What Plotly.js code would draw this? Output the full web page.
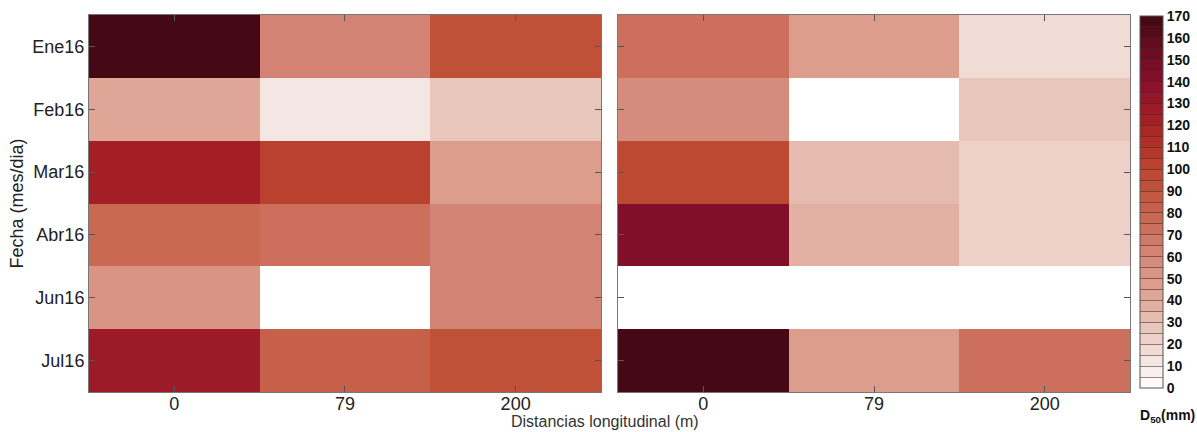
<!DOCTYPE html>
<html>
<head>
<meta charset="utf-8">
<script src="https://cdn.plot.ly/plotly-3.0.1.min.js"></script>
<style>
  html, body { margin: 0; padding: 0; background: #fff; }
  #chart { width: 1197px; height: 432px; }
</style>
</head>
<body>
<div id="chart"></div>
<script>
// Sampling dates (rows) and longitudinal distances (columns)
const fechas = ["Ene16", "Feb16", "Mar16", "Abr16", "Jun16", "Jul16"];
const distancias = ["0", "79", "200"];

// D50 (mm) per date and distance; null = no sample
const d50Izquierda = [
  [165, 62, 92],
  [42, 14, 28],
  [122, 102, 46],
  [78, 74, 64],
  [54, null, 64],
  [128, 84, 90]
];
const d50Derecha = [
  [74, 46, 16],
  [58, null, 28],
  [98, 32, 22],
  [142, 36, 22],
  [null, null, null],
  [168, 48, 72]
];

// Colour anchors every 10 mm, from 0 to 170
const anclas = [
  "#ffffff", "#f6ebe8", "#efd6cf", "#e7c0b5", "#e0ab9d", "#da9888",
  "#d48878", "#cd7462", "#c7644e", "#c2553c", "#bb4530", "#b23427",
  "#a62224", "#9a1729", "#86102a", "#720d24", "#5a0b1c", "#3c0813"
];
const zMin = 0, zMax = 170, paso = 5;

function hexRgb(h) {
  return [1, 3, 5].map(i => parseInt(h.slice(i, i + 2), 16));
}
function colorEn(v) {
  const t = v / 10;
  const i = Math.min(Math.floor(t), anclas.length - 2);
  const f = t - i;
  const a = hexRgb(anclas[i]), b = hexRgb(anclas[i + 1]);
  const c = a.map((x, k) => Math.round(x + (b[k] - x) * f));
  return `rgb(${c[0]},${c[1]},${c[2]})`;
}

// Stepped colour scale: one flat band per 5 mm class
const nBandas = (zMax - zMin) / paso;
const escala = [];
for (let i = 0; i < nBandas; i++) {
  const col = colorEn(zMin + (i + 0.5) * paso);
  escala.push([i / nBandas, col]);
  escala.push([(i + 1) / nBandas, col]);
}

// Colour bar ticks every 5 mm act as class separators; labels every 10 mm
const cbVals = [], cbText = [];
for (let v = zMin; v <= zMax; v += paso) {
  cbVals.push(v);
  cbText.push(v % 10 === 0 ? String(v) : "");
}

const fuente = "Liberation Sans, Arial, sans-serif";

const comunes = {
  type: "heatmap",
  x: distancias,
  y: fechas,
  zmin: zMin,
  zmax: zMax,
  colorscale: escala,
  hoverongaps: false
};

const trazas = [
  Object.assign({}, comunes, {
    z: d50Izquierda,
    xaxis: "x",
    yaxis: "y",
    showscale: false
  }),
  Object.assign({}, comunes, {
    z: d50Derecha,
    xaxis: "x2",
    yaxis: "y2",
    showscale: true,
    colorbar: {
      x: 1.0096,
      xanchor: "left",
      y: 0.0106,
      yanchor: "bottom",
      len: 0.987,
      lenmode: "fraction",
      thickness: 23,
      thicknessmode: "pixels",
      xpad: 0,
      ypad: 0,
      outlinecolor: "#555",
      outlinewidth: 1,
      tickmode: "array",
      tickvals: cbVals,
      ticktext: cbText,
      ticks: "inside",
      ticklen: 23,
      tickwidth: 1,
      tickcolor: "rgba(70,40,40,0.55)",
      ticklabelpad: 4,
      tickfont: { family: fuente, size: 14, color: "#111", weight: "bold" }
    }
  })
];

const ejeX = {
  type: "category",
  showline: true,
  linecolor: "#777",
  linewidth: 1,
  mirror: "ticks",
  ticks: "inside",
  ticklen: 6,
  tickcolor: "#555",
  ticklabelstandoff: -5,
  tickfont: { family: fuente, size: 18, color: "#222" },
  showgrid: false,
  zeroline: false,
  fixedrange: true
};
const ejeY = {
  type: "category",
  autorange: "reversed",
  showline: true,
  linecolor: "#777",
  linewidth: 1,
  mirror: "ticks",
  ticks: "inside",
  ticklen: 6,
  tickcolor: "#555",
  tickfont: { family: fuente, size: 18, color: "#222" },
  showgrid: false,
  zeroline: false,
  fixedrange: true
};

const layout = {
  width: 1197,
  height: 432,
  margin: { l: 89, r: 67, t: 15, b: 40, pad: 0, autoexpand: false },
  paper_bgcolor: "#ffffff",
  plot_bgcolor: "#ffffff",
  showlegend: false,
  xaxis: Object.assign({}, ejeX, { domain: [0, 0.4918], anchor: "y" }),
  yaxis: Object.assign({}, ejeY, {
    anchor: "x",
    ticklabelstandoff: 0,
    title: {
      text: "Fecha (mes/dia)",
      standoff: 4,
      font: { family: fuente, size: 18, color: "#222" }
    }
  }),
  xaxis2: Object.assign({}, ejeX, { domain: [0.5082, 1], anchor: "y2" }),
  yaxis2: Object.assign({}, ejeY, { anchor: "x2", showticklabels: false }),
  annotations: [
    {
      // shared x-axis title centred under both panels
      text: "Distancias longitudinal (m)",
      xref: "paper",
      yref: "paper",
      x: 0.496,
      y: -0.05,
      xanchor: "center",
      yanchor: "top",
      showarrow: false,
      font: { family: fuente, size: 16, color: "#333" }
    },
    {
      // colour bar units, under the bar
      text: "D<sub>50</sub>(mm)",
      xref: "paper",
      yref: "paper",
      x: 1.0365,
      y: -0.035,
      xanchor: "center",
      yanchor: "top",
      showarrow: false,
      font: { family: fuente, size: 14, color: "#111", weight: "bold" }
    }
  ]
};

Plotly.newPlot("chart", trazas, layout, { displayModeBar: false, staticPlot: true });
</script>
</body>
</html>
